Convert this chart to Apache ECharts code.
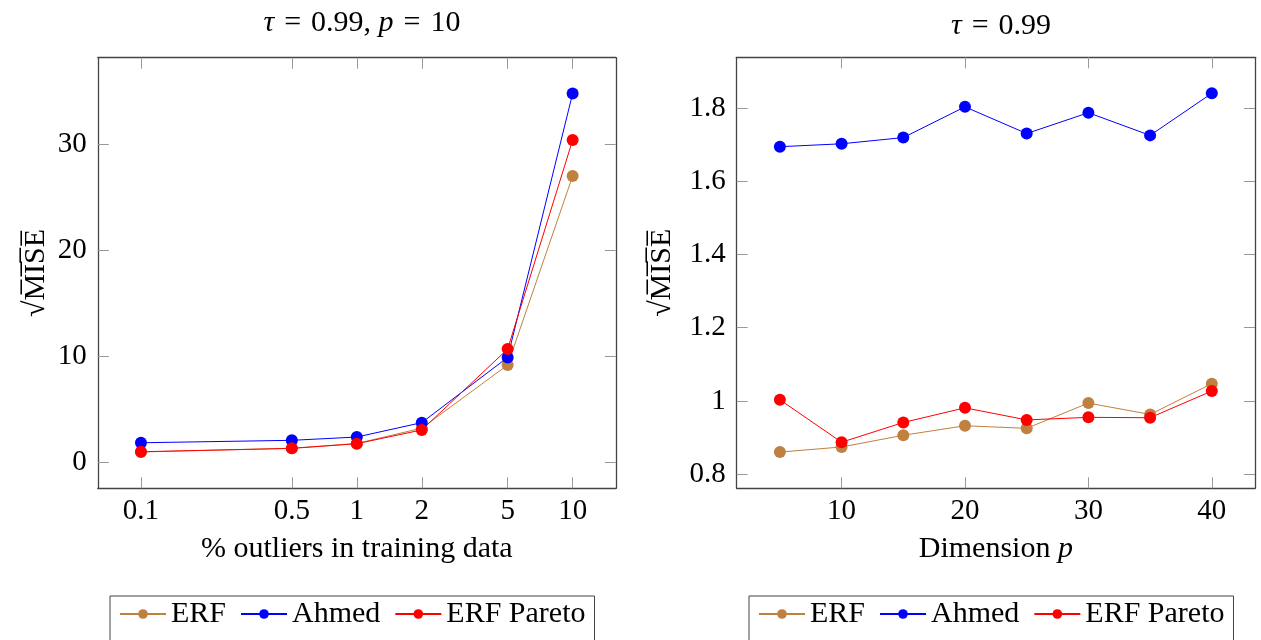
<!DOCTYPE html>
<html>
<head>
<meta charset="utf-8">
<script src="https://cdn.jsdelivr.net/npm/echarts@6/dist/echarts.min.js"></script>
<style>
  html, body { margin: 0; padding: 0; background: #fff; }
  #main { width: 1261px; height: 640px; }
</style>
</head>
<body>
<div id="main"></div>
<script>
// left panel: sqrt(MISE) against % outliers, tau = 0.99, p = 10
var outlierPct = [0.1, 0.5, 1, 2, 5, 10]
var erfOut = [0.95, 1.3, 1.75, 3.2, 9.16, 27.0]
var ahmedOut = [1.82, 2.05, 2.36, 3.72, 9.88, 34.8]
var paretoOut = [0.97, 1.29, 1.73, 3.03, 10.67, 30.4]

// right panel: sqrt(MISE) against dimension p, tau = 0.99
var dims = [5, 10, 15, 20, 25, 30, 35, 40]
var erfDim = [0.860, 0.874, 0.906, 0.932, 0.925, 0.994, 0.963, 1.047]
var ahmedDim = [1.695, 1.703, 1.720, 1.804, 1.731, 1.788, 1.726, 1.841]
var paretoDim = [1.003, 0.887, 0.941, 0.981, 0.948, 0.955, 0.954, 1.027]

// tick labels
var leftXTicks = [0.1, 0.5, 1, 2, 5, 10]
var leftYTicks = [0, 10, 20, 30]
var rightXTicks = [10, 20, 30, 40]
var rightYTicks = [0.8, 1, 1.2, 1.4, 1.6, 1.8]

var FONT = 'Liberation Serif'
var names = ['ERF', 'Ahmed', 'ERF Pareto']
var colors = ['#bf8040', '#0000ff', '#ff0000']

function pairs(xs, ys) {
  return xs.map(function (x, i) { return [x, ys[i]] })
}

function makeLine(k, xs, ys, idx) {
  return {
    name: names[k],
    type: 'line',
    xAxisIndex: idx,
    yAxisIndex: idx,
    data: pairs(xs, ys),
    symbol: 'circle',
    symbolSize: 12,
    color: colors[k],
    itemStyle: { color: colors[k] },
    lineStyle: { width: 1, color: colors[k] },
    emphasis: { disabled: true },
    animation: false
  }
}

// one side of the box; labels only on bottom/left ones
function axis(type, pos, grid, min, max, ticks, withLabels, extra) {
  var a = {
    type: type,
    position: pos,
    gridIndex: grid,
    min: min,
    max: max,
    axisLine: { show: true, onZero: false, lineStyle: { color: '#444', width: 1.3 } },
    axisTick: { show: true, inside: true, length: 11, customValues: ticks, lineStyle: { color: '#999', width: 1 } },
    axisLabel: {
      show: withLabels,
      customValues: ticks,
      fontFamily: FONT,
      fontSize: 29,
      color: '#000',
      margin: pos === 'bottom' ? 9 : 11,
      formatter: function (v) { return String(+v.toFixed(4)) }
    },
    splitLine: { show: false },
    minorTick: { show: false }
  }
  return Object.assign(a, extra || {})
}

var nameStyle = { fontFamily: FONT, fontSize: 30, color: '#000', rich: { i: { fontFamily: FONT, fontSize: 30, fontStyle: 'italic' } } }
var misName = '\u221AM\u0305I\u0305S\u0305E\u0305'
var eq = '\u2004=\u2004'

var legendBase = {
  data: names,
  top: 596,
  orient: 'horizontal',
  itemGap: 14,
  itemWidth: 46,
  itemHeight: 12,
  padding: [3, 9, 12, 9],
  borderColor: '#444',
  borderWidth: 1,
  selectedMode: false,
  textStyle: { fontFamily: FONT, fontSize: 30, color: '#000' }
}

var myChart = echarts.init(document.getElementById('main'))
var option = {
  backgroundColor: '#fff',
  animation: false,
  title: [
    {
      text: '{i|\u03C4}' + eq + '0.99, {i|p}' + eq + '10',
      left: 357, top: 3, textAlign: 'center',
      textStyle: { fontFamily: FONT, fontSize: 30, fontWeight: 'normal', color: '#000', rich: nameStyle.rich }
    },
    {
      text: '{i|\u03C4}' + eq + '0.99',
      left: 996, top: 6, textAlign: 'center',
      textStyle: { fontFamily: FONT, fontSize: 30, fontWeight: 'normal', color: '#000', rich: nameStyle.rich }
    }
  ],
  legend: [
    Object.assign({}, legendBase, { left: 110 }),
    Object.assign({}, legendBase, { left: 749 })
  ],
  grid: [
    { left: 97.8, top: 57.7, width: 518, height: 430.6, containLabel: false },
    { left: 736.7, top: 57.3, width: 518.3, height: 431, containLabel: false }
  ],
  xAxis: [
    axis('log', 'bottom', 0, 0.0631, 15.85, leftXTicks, true, {
      logBase: 10,
      name: '% outliers in training data', nameLocation: 'middle', nameGap: 46, nameTextStyle: nameStyle
    }),
    axis('log', 'top', 0, 0.0631, 15.85, leftXTicks, false, { logBase: 10 }),
    axis('value', 'bottom', 1, 1.5, 43.5, rightXTicks, true, {
      name: 'Dimension {i|p}', nameLocation: 'middle', nameGap: 46, nameTextStyle: nameStyle
    }),
    axis('value', 'top', 1, 1.5, 43.5, rightXTicks, false)
  ],
  yAxis: [
    axis('value', 'left', 0, -2.48, 38.18, leftYTicks, true, {
      name: misName, nameLocation: 'middle', nameGap: 47, nameTextStyle: nameStyle
    }),
    axis('value', 'right', 0, -2.48, 38.18, leftYTicks, false),
    axis('value', 'left', 1, 0.761, 1.9395, rightYTicks, true, {
      name: misName, nameLocation: 'middle', nameGap: 60, nameTextStyle: nameStyle
    }),
    axis('value', 'right', 1, 0.761, 1.9395, rightYTicks, false)
  ],
  series: [
    makeLine(0, outlierPct, erfOut, 0),
    makeLine(1, outlierPct, ahmedOut, 0),
    makeLine(2, outlierPct, paretoOut, 0),
    makeLine(0, dims, erfDim, 2),
    makeLine(1, dims, ahmedDim, 2),
    makeLine(2, dims, paretoDim, 2)
  ]
}
myChart.setOption(option)
</script>
</body>
</html>
